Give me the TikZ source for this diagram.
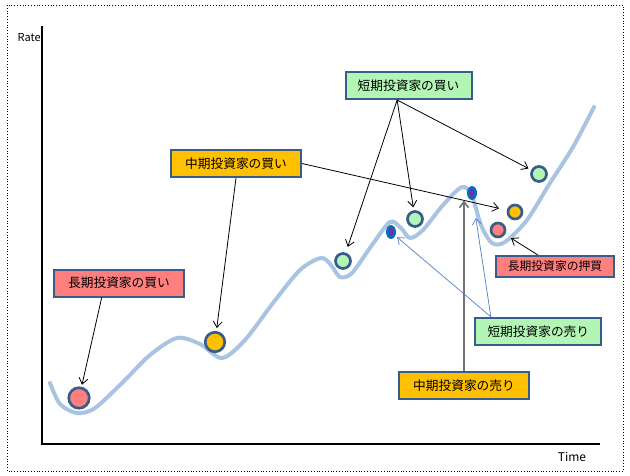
\documentclass[tikz,border=0pt]{standalone}
\usepackage{fontspec}
\setmainfont{Noto Sans CJK JP}
\usetikzlibrary{arrows.meta,shapes.geometric}
\definecolor{rim}{HTML}{385D8A}
\definecolor{pinkfill}{HTML}{FF7F7F}
\definecolor{goldfill}{HTML}{FFC000}
\definecolor{mintfill}{HTML}{B3F5B5}
\definecolor{trend}{HTML}{A9C4E3}
\definecolor{selldot}{HTML}{0070C0}
\definecolor{sellcore}{HTML}{7030A0}
\definecolor{thinblue}{HTML}{4F81BD}

\begin{document}
\begin{tikzpicture}[x=1pt,y=-1pt,>={Straight Barb[length=6pt,width=9pt]},line width=0.8pt,
 lab/.style={draw=rim,line width=2pt,minimum width=130pt,minimum height=27pt,inner sep=0pt,
  font=\fontsize{12.7}{14}\selectfont},
 ball/.style={circle,draw=rim,line width=2.7pt,inner sep=0pt,minimum size=15pt},
 dot/.style={ellipse,fill=selldot,inner sep=0pt,minimum width=10pt,minimum height=14pt},
 blue/.style={->,draw=thinblue,line width=0.7pt}]
\useasboundingbox (0,0) rectangle (630,475);
\draw[dotted,line width=0.8pt] (7,5) rectangle (623,471);
% axes
\draw[line width=2.2pt] (42,26) -- (42,444) -- (600,444);
\node[anchor=east,inner sep=0pt,font=\fontsize{11}{12}\selectfont] (rate) at (41,38) {Rate};
\node[inner sep=0pt,font=\fontsize{12}{13}\selectfont] (time) at (572,457) {Time};
% rate curve
\draw[trend,line width=4pt,line cap=round] plot[smooth,tension=0.5] coordinates {
 (50,383) (60,404) (77,413) (95,408) (123,382) (150,355) (177,338) (200,344)
 (222,358) (245,340) (273,303) (300,270) (321,258) (331,265) (340,277) (352,273)
 (372,245) (390,222) (401,228) (410,238) (423,230) (443,205) (462,187) (472,196)
 (481,225) (492,243) (505,242) (527,220) (550,183) (573,147) (594,107)};
% buy / sell points
\node[ball,fill=pinkfill,minimum size=20.5pt] (cL) at (79,398) {};
\node[ball,fill=goldfill,minimum size=19.5pt] (cM) at (215,342) {};
\node[ball,fill=mintfill] (cS1) at (343,261) {};
\node[ball,fill=mintfill] (cS2) at (415,219) {};
\node[ball,fill=mintfill] (cS3) at (539,174) {};
\node[ball,fill=goldfill,minimum size=14pt] (cM2) at (515,212) {};
\node[ball,fill=pinkfill,minimum size=14pt] (cL2) at (498,230) {};
\node[dot] (s1dot) at (391,232) {};
\node[dot] (s2dot) at (472,193) {};
\fill[sellcore] (s1dot) ellipse (2.5 and 4.5);
\fill[sellcore] (s2dot) ellipse (2.5 and 4.5);
% labels
\node[lab,fill=pinkfill] (lbuy) at (119,283) {長期投資家の買い};
\node[lab,fill=goldfill] (mbuy) at (236,163.5) {中期投資家の買い};
\node[lab,fill=mintfill,minimum width=126pt] (sbuy) at (408.5,85.5) {短期投資家の買い};
\node[lab,fill=pinkfill,minimum width=118pt,minimum height=21pt,font=\fontsize{11.8}{13}\selectfont] (lpush) at (555,266.5) {長期投資家の押買};
\node[lab,fill=mintfill,minimum width=126pt] (ssell) at (538.3,331.3) {短期投資家の売り};
\node[lab,fill=goldfill] (msell) at (464,385.5) {中期投資家の売り};
% arrows
\draw[->,shorten >=2pt] (lbuy.220) -- (cL);
\draw[->,shorten >=3pt] (mbuy.south) -- (cM);
\draw[->,shorten >=8pt] (mbuy.east) -- (cM2);
\draw[->,shorten >=6pt] (sbuy.232) -- (cS1);
\draw[->,shorten >=3pt] (sbuy.232) -- (cS2);
\draw[->,shorten >=3pt] (sbuy.232) -- (cS3);
\draw[->,shorten >=7pt] (lpush.146) -- (cL2);
\draw[->,draw=black!55,line width=1.6pt] (msell.north) -- (msell.north |- s2dot.south);
\draw[blue,shorten >=2pt] (ssell.163) -- (s1dot);
\draw[blue,shorten >=18pt] (ssell.163) -- (s2dot);
\end{tikzpicture}
\end{document}
